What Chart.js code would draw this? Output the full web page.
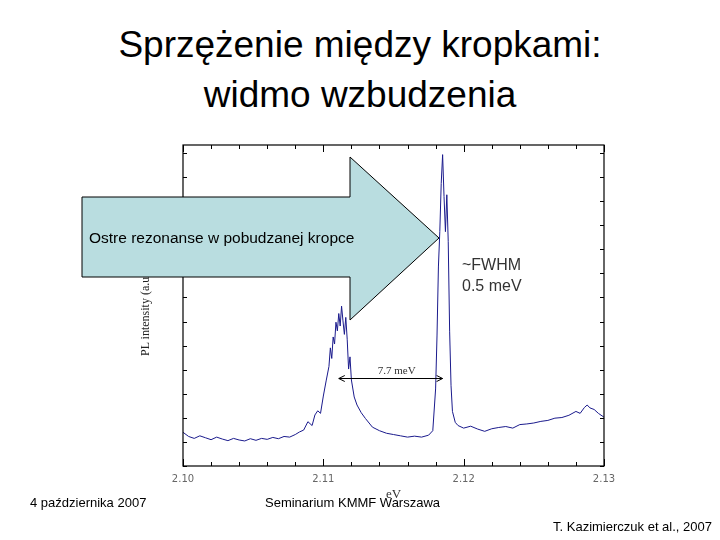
<!DOCTYPE html>
<html><head><meta charset="utf-8">
<script src="https://cdn.jsdelivr.net/npm/chart.js@4/dist/chart.umd.min.js"></script>
<style>
body{margin:0;width:720px;height:540px;background:#fff;position:relative;overflow:hidden;font-family:"Liberation Sans",Arial,sans-serif}
#c{position:absolute;left:0;top:0}
.t{position:absolute;white-space:nowrap}
</style></head><body>
<div class="t" style="left:0;width:720px;top:20px;text-align:center;font-size:37px;line-height:50px;color:#000">Sprzężenie między kropkami:<br>widmo wzbudzenia</div>
<canvas id="c" width="720" height="540"></canvas>
<div class="t" style="left:126px;top:318px;transform:rotate(-90deg);transform-origin:0 0;font-family:'Liberation Serif',serif;font-size:12px;color:#222;top:356px;left:138px">PL intensity (a.u.)</div>
<svg style="position:absolute;left:0;top:0" width="720" height="540">
<polygon points="82,197 350,197 350,157 439,238 350,320 350,277 82,277" fill="#b9dde0" stroke="#000" stroke-width="1"/>
</svg>
<div class="t" style="left:89px;top:229px;font-size:15.5px;color:#000">Ostre rezonanse w pobudzanej kropce</div>
<div class="t" style="left:462px;top:254px;font-size:16px;line-height:21px;color:#333">~FWHM<br>0.5 meV</div>
<div class="t" style="left:30px;top:495px;font-size:13px;color:#000">4 października 2007</div>
<div class="t" style="left:265px;top:495px;font-size:13px;color:#000">Seminarium KMMF Warszawa</div>
<div class="t" style="right:8px;top:519px;font-size:13px;color:#000">T. Kazimierczuk et al., 2007</div>
<script>
const energy=[2.1000,2.1004,2.1008,2.1012,2.1016,2.1020,2.1024,2.1028,2.1032,2.1036,2.1040,2.1044,2.1048,2.1052,2.1056,2.1060,2.1064,2.1068,2.1072,2.1076,2.1080,2.1083,2.1086,2.1089,2.1092,2.1094,2.1096,2.1098,2.1100,2.1102,2.1104,2.1105,2.1106,2.1107,2.1108,2.1109,2.1110,2.1111,2.1112,2.1113,2.1114,2.1115,2.1116,2.1117,2.1118,2.1119,2.1120,2.1122,2.1124,2.1127,2.1130,2.1135,2.1140,2.1145,2.1150,2.1155,2.1160,2.1165,2.1170,2.1175,2.1178,2.1180,2.1181,2.1182,2.1183,2.1184,2.1185,2.1186,2.1187,2.1188,2.1189,2.1190,2.1191,2.1192,2.1194,2.1196,2.1200,2.1205,2.1210,2.1215,2.1220,2.1225,2.1230,2.1235,2.1240,2.1245,2.1250,2.1255,2.1260,2.1265,2.1270,2.1275,2.1280,2.1283,2.1286,2.1288,2.1290,2.1293,2.1296,2.1300];
const intensity=[10.5,9.2,8.6,9.4,8.8,8.2,9.0,8.4,7.9,8.6,8.1,7.8,8.5,8.0,8.6,8.3,8.9,8.5,9.2,9.0,9.8,10.6,11.2,13.8,12.6,15.9,17.2,16.4,21.8,26.5,31.0,36.8,33.5,40.2,38.0,44.8,42.1,47.5,43.6,49.8,45.2,41.0,46.3,39.5,30.2,34.0,26.8,21.5,19.0,16.6,14.8,12.1,11.0,10.2,9.8,9.4,9.0,9.3,9.0,9.6,11.0,24.0,40.5,62.0,73.0,88.0,97.0,84.0,73.0,84.5,70.0,42.0,25.0,17.0,13.6,12.6,11.8,12.4,11.5,10.8,11.6,12.0,12.3,11.8,12.9,13.1,13.4,13.9,14.2,14.9,15.1,15.8,17.0,16.4,18.2,19.0,18.1,17.6,16.4,15.2];
const xTicks=[2.10,2.11,2.12,2.13];
const xLabels=["2.10","2.11","2.12","2.13"];
const sepFrom=2.1111, sepTo=2.1185, sepLevel=27.4, sepLabel="7.7 meV";

const frame={id:'frame',afterDraw(ch){
 const c=ch.ctx,x=ch.scales.x,y=ch.scales.y,a=ch.chartArea;
 c.save();c.strokeStyle='#000';c.lineWidth=1.2;
 c.strokeRect(a.left,a.top,a.right-a.left,a.bottom-a.top);
 c.lineWidth=1;
 for(let v=2.100;v<=2.1301;v+=0.002){const p=Math.round(x.getPixelForValue(v))+0.5;const L=(Math.abs(v*100-Math.round(v*100))<1e-6)?7:4;
  c.beginPath();c.moveTo(p,a.bottom);c.lineTo(p,a.bottom-L);c.moveTo(p,a.top);c.lineTo(p,a.top+L);c.stroke();}
 for(let v=0;v<=100;v+=7.5){const p=Math.round(y.getPixelForValue(v))+0.5;
  c.beginPath();c.moveTo(a.left,p);c.lineTo(a.left+4,p);c.moveTo(a.right,p);c.lineTo(a.right-4,p);c.stroke();}
 c.fillStyle='#666';c.font='10px "DejaVu Sans"';c.textAlign='center';
 xTicks.forEach((v,i)=>c.fillText(xLabels[i],x.getPixelForValue(v),a.bottom+16));
 c.fillStyle='#333';c.font='13px "Liberation Serif"';c.fillText('eV',x.getPixelForValue(2.115),a.bottom+32);
 const x1=x.getPixelForValue(sepFrom),x2=x.getPixelForValue(sepTo),yy=Math.round(y.getPixelForValue(sepLevel))+0.5;
 c.strokeStyle='#000';c.beginPath();c.moveTo(x1,yy);c.lineTo(x2,yy);
 c.moveTo(x1+6,yy-3);c.lineTo(x1,yy);c.lineTo(x1+6,yy+3);
 c.moveTo(x2-6,yy-3);c.lineTo(x2,yy);c.lineTo(x2-6,yy+3);c.stroke();
 c.fillStyle='#333';c.font='11px "Liberation Serif"';c.fillText(sepLabel,(x1+x2)/2+6,yy-5);
 c.restore();}};

new Chart(document.getElementById('c'),{type:'line',
 data:{datasets:[{data:energy.map((e,i)=>({x:e,y:intensity[i]})),borderColor:'#1a1a8c',borderWidth:1,pointRadius:0,tension:0}]},
 options:{responsive:false,animation:false,
  layout:{padding:{left:183,right:116,top:145,bottom:74}},
  plugins:{legend:{display:false},tooltip:{enabled:false}},
  scales:{x:{type:'linear',min:2.10,max:2.13,display:false},
          y:{min:0,max:100,display:false}}},
 plugins:[frame]});
</script>
</body></html>
